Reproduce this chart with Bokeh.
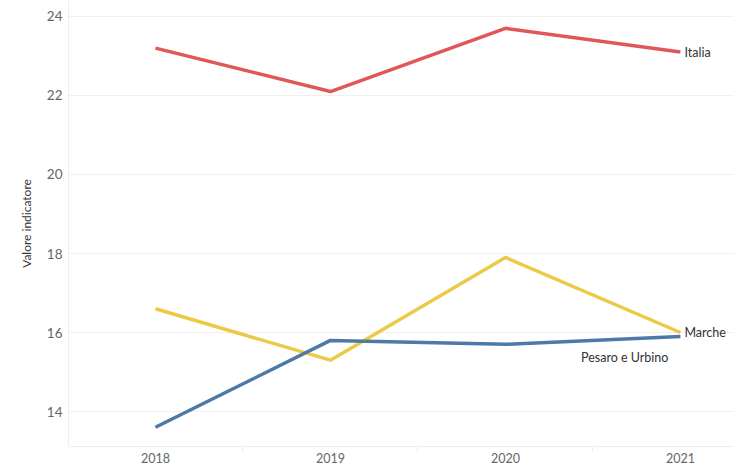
from bokeh.plotting import figure
from bokeh.models import FixedTicker, ColumnDataSource, Range1d
from bokeh.core.properties import value
from bokeh.embed import file_html
from bokeh.resources import INLINE

years = [2018, 2019, 2020, 2021]
italia = [23.2, 22.1, 23.7, 23.1]
marche = [16.6, 15.3, 17.9, 16.0]
pesaro = [13.6, 15.8, 15.7, 15.9]
y_ticks = [14, 16, 18, 20, 22, 24]
series_names = ["Italia", "Marche", "Pesaro e Urbino"]
colors = ["#e15759", "#edc948", "#4e79a7"]

FONT = "Lato"

p = figure(width=734, height=465, output_backend="svg", toolbar_location=None,
           x_range=Range1d(2017.503, 2021.309), y_range=Range1d(13.114, 24.405),
           min_border_left=68, min_border_right=0, min_border_top=0, min_border_bottom=15)
p.outline_line_color = None
p.background_fill_color = "white"

for vals, c in zip([italia, marche, pesaro], colors):
    p.line(years, vals, line_color=c, line_width=3.5)

# end labels
lab_src = ColumnDataSource(dict(x=[years[-1], years[-1]], y=[italia[-1], marche[-1]],
                                t=[series_names[0], series_names[1]]))
p.text(x="x", y="y", text="t", source=lab_src, x_offset=4, text_align="left",
       text_baseline="middle", text_font=value(FONT), text_font_size="12.5px",
       text_color="#333333")
p.text(x=[years[-1]], y=[pesaro[-1]], text=[series_names[2]], x_offset=-12, y_offset=21,
       text_align="right", text_baseline="middle", text_font=value(FONT),
       text_font_size="12.5px", text_color="#333333")

# x axis
p.xaxis.ticker = FixedTicker(ticks=years, minor_ticks=[2018.5, 2019.5, 2020.5])
p.xaxis.major_tick_line_color = None
p.xaxis.major_tick_out = 0
p.xaxis.major_tick_in = 0
p.xaxis.minor_tick_out = 6
p.xaxis.minor_tick_in = 0
p.xaxis.minor_tick_line_color = "#eeeeee"
p.xaxis.axis_line_color = "#eeeeee"
p.xaxis.major_label_text_font = FONT
p.xaxis.major_label_text_font_size = "12.5px"
p.xaxis.major_label_text_color = "#666666"
p.xaxis.major_label_standoff = 0
p.xgrid.grid_line_color = None

# y axis
p.yaxis.ticker = FixedTicker(ticks=y_ticks)
p.yaxis.major_tick_line_color = None
p.yaxis.major_tick_out = 0
p.yaxis.major_tick_in = 0
p.yaxis.minor_tick_line_color = None
p.yaxis.axis_line_color = "#eeeeee"
p.yaxis.major_label_text_font = FONT
p.yaxis.major_label_text_font_size = "13.5px"
p.yaxis.major_label_text_color = "#666666"
p.yaxis.major_label_standoff = 6
p.yaxis.axis_label = "Valore indicatore"
p.yaxis.axis_label_text_font = FONT
p.yaxis.axis_label_text_font_style = "normal"
p.yaxis.axis_label_text_font_size = "12px"
p.yaxis.axis_label_text_color = "#333333"
p.yaxis.axis_label_standoff = 10
p.ygrid.grid_line_color = "#f0f0f0"

open("out.html", "w").write(file_html(p, INLINE))
